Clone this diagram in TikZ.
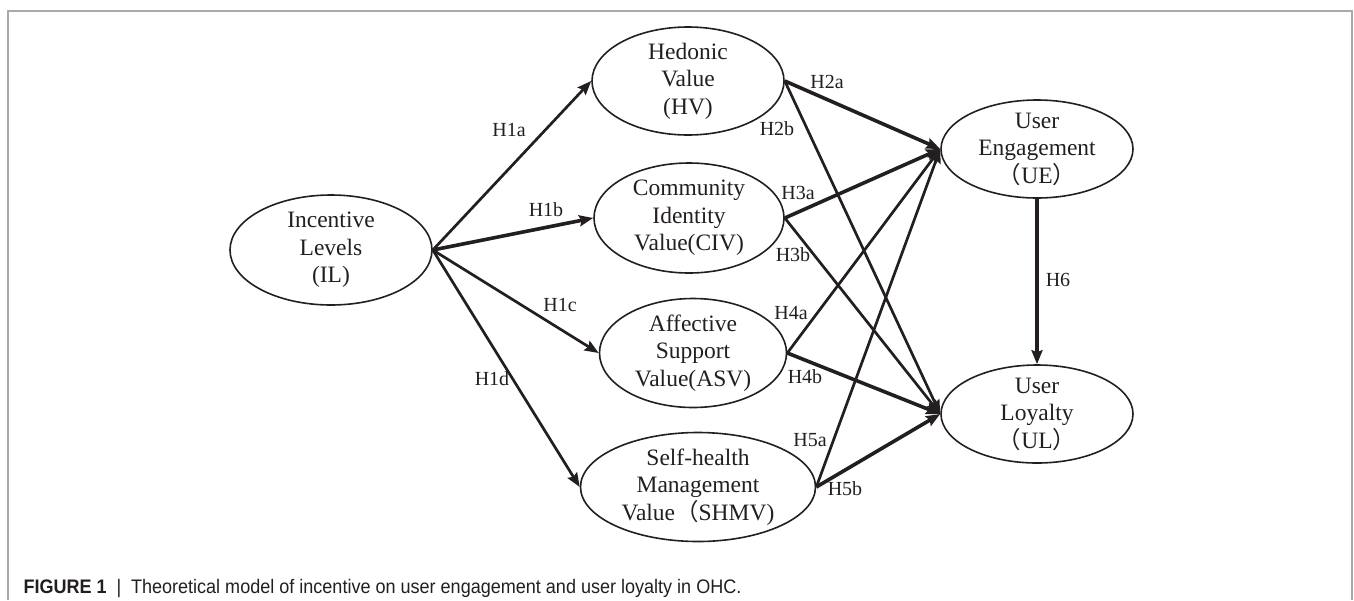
\documentclass[tikz,border=0pt]{standalone}
\usepackage{fontspec}
\setmainfont{Liberation Serif}
\newfontfamily\capfont{Liberation Sans}[FakeStretch=0.92]
\newfontfamily\cjk{Noto Sans CJK SC}
\usepackage{xcolor}
\usepackage{tikz}
\usetikzlibrary{arrows.meta}
\usetikzlibrary{shapes.geometric}
\usetikzlibrary{positioning}

\definecolor{ink}{HTML}{231F20}
\definecolor{framegray}{HTML}{A7A9AC}
\newcommand{\fwl}{{\cjk （}}
\newcommand{\fwr}{{\cjk ）}}

\begin{document}
\begin{tikzpicture}[x=0.5pt,y=-0.5pt,-,auto,semithick]
		\tikzstyle{var}=[draw=ink, ellipse, line width=0.8pt, inner sep=-4pt, align=center, text=ink, font=\fontsize{11.75pt}{13.75pt}\selectfont]
		\tikzstyle{hyp}=[inner sep=0pt, text=ink, font=\fontsize{10pt}{12pt}\selectfont]
		\tikzstyle{link}=[draw=ink, line width=1.35pt, -{Stealth[length=7pt,width=5.5pt,inset=1pt]}]
		\tikzstyle{mainlink}=[link, line width=1.8pt]
		\useasboundingbox (0,0) rectangle (1354,600);
		\draw[framegray, line width=1pt] (8,600) -- (8,11) -- (1352,11) -- (1352,600);

			\node[var, minimum width=101pt, minimum height=55pt] (IL) at (331,250) {Incentive\\Levels\\(IL)};
			\node[var, minimum width=96pt, minimum height=54pt] (HV) at (688,81) {Hedonic\\Value\\(HV)};
			\node[var, minimum width=95pt, minimum height=55pt] (CIV) at (689,218) {Community\\Identity\\Value(CIV)};
			\node[var, minimum width=93.5pt, minimum height=54.5pt] (ASV) at (693,353) {Affective\\Support\\Value(ASV)};
			\node[var, minimum width=117.5pt, minimum height=54.5pt] (SHMV) at (698,487) {Self-health\\Management\\Value\fwl SHMV)};
			\node[var, minimum width=96pt, minimum height=49pt] (UE) at (1037,149) {User\\Engagement\\\fwl UE\fwr};
			\node[var, minimum width=96pt, minimum height=49pt] (UL) [below of=UE, node distance=132.5pt] {User\\Loyalty\\\fwl UL\fwr};

				\foreach \j/\s in {HV/link,CIV/mainlink,ASV/link,SHMV/link}{
					\draw[\s] (IL.east) -- (\j.west);
					}
				\foreach \i/\s/\t in {HV/mainlink/link,CIV/mainlink/link,ASV/link/mainlink,SHMV/link/mainlink}{
					\draw[\s] (\i.east) -- (UE.west);
					\draw[\t] (\i.east) -- (UL.west);
					}
				\draw[mainlink] (UE.south) -- (UL.north);

				\foreach \h/\x/\y in {H1a/509/130,H1b/546/210,H1c/560/305,H1d/492/379,H2a/827/82,H2b/777/129,H3a/798/193,H3b/793/255,H4a/791/313,H4b/805/377,H5a/810/440,H5b/845/489,H6/1058/280}{
					\node[hyp] (\h) at (\x,\y) {\h};
					}

			\node[anchor=west, inner sep=0pt, text=ink, font=\capfont\fontsize{9.8pt}{11.5pt}\selectfont] (cap) at (23,588) {\textbf{FIGURE 1}\enspace|\enspace Theoretical model of incentive on user engagement and user loyalty in OHC.};
\end{tikzpicture}
\end{document}
